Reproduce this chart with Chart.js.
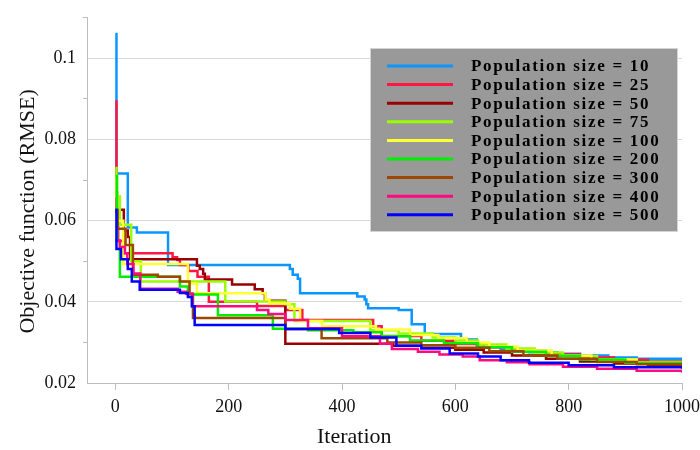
<!DOCTYPE html>
<html>
<head>
<meta charset="utf-8">
<script src="https://cdn.jsdelivr.net/npm/chart.js@4.4.1/dist/chart.umd.min.js"></script>
<style>
  html, body { margin: 0; padding: 0; background: #fff; }
  #wrap { width: 700px; height: 450px; }
</style>
</head>
<body>
<div id="wrap"><canvas id="chart" width="700" height="450"></canvas></div>
<script>
const popSizes = ['10', '25', '50', '75', '100', '200', '300', '400', '500'];
const lineColors = ['#0a95ff', '#ff1744', '#990000', '#99ff00', '#ffff33', '#00ee00', '#9c4800', '#ff0a80', '#0000ff'];

// [iteration, RMSE] (best-so-far steps)
const pop10 = [[0, 0.106], [2, 0.0716], [22, 0.0583], [38, 0.0571], [93, 0.0491], [308, 0.0481], [313, 0.0467], [322, 0.0457], [326, 0.0421], [427, 0.0413], [440, 0.0406], [443, 0.0394], [446, 0.0384], [500, 0.0380], [523, 0.0345], [546, 0.0321], [610, 0.0307], [638, 0.0289], [680, 0.0282], [730, 0.0276], [780, 0.0272], [820, 0.0268], [870, 0.0263], [920, 0.0260], [1000, 0.0258]];
const pop25 = [[0, 0.0894], [2, 0.062], [5, 0.055], [14, 0.0520], [101, 0.0510], [109, 0.0503], [114, 0.0491], [129, 0.0476], [145, 0.0462], [165, 0.0400], [250, 0.0390], [300, 0.0380], [330, 0.0355], [455, 0.0340], [470, 0.0316], [540, 0.0304], [600, 0.0296], [650, 0.0288], [700, 0.0280], [760, 0.0271], [820, 0.0263], [880, 0.0257], [940, 0.0253], [1000, 0.0250]];
const pop50 = [[0, 0.067], [3, 0.0627], [15, 0.0576], [22, 0.0560], [26, 0.0505], [144, 0.0489], [149, 0.0481], [155, 0.0469], [158, 0.0455], [206, 0.0443], [246, 0.0431], [260, 0.0421], [264, 0.0403], [300, 0.0297], [490, 0.0292], [540, 0.0287], [600, 0.0282], [650, 0.0275], [700, 0.0268], [760, 0.0260], [820, 0.0253], [880, 0.0248], [940, 0.0244], [1000, 0.0241]];
const pop75 = [[0, 0.073], [2, 0.066], [8, 0.0590], [28, 0.0500], [45, 0.0450], [194, 0.0401], [300, 0.0394], [316, 0.0353], [450, 0.0330], [500, 0.0322], [560, 0.0312], [600, 0.0305], [640, 0.0295], [690, 0.0285], [740, 0.0275], [790, 0.0266], [850, 0.0258], [920, 0.0251], [1000, 0.0246]];
const pop100 = [[0, 0.071], [3, 0.060], [14, 0.0493], [128, 0.0445], [144, 0.0421], [265, 0.0406], [272, 0.0396], [308, 0.0383], [326, 0.0353], [365, 0.0340], [460, 0.0332], [520, 0.0318], [570, 0.0310], [620, 0.0300], [660, 0.0290], [710, 0.0280], [770, 0.0268], [840, 0.0258], [920, 0.0250], [1000, 0.0245]];
const pop200 = [[0, 0.071], [3, 0.055], [8, 0.0462], [114, 0.0438], [128, 0.0418], [181, 0.0367], [278, 0.0334], [340, 0.0330], [420, 0.0325], [470, 0.0315], [520, 0.0305], [580, 0.0298], [640, 0.0288], [700, 0.0277], [760, 0.0267], [820, 0.0258], [900, 0.0250], [1000, 0.0244]];
const pop300 = [[0, 0.0625], [4, 0.058], [18, 0.054], [31, 0.0467], [75, 0.0462], [114, 0.0450], [131, 0.0420], [137, 0.0360], [300, 0.0333], [364, 0.0310], [480, 0.0300], [540, 0.0293], [600, 0.0287], [660, 0.0278], [720, 0.0268], [780, 0.0260], [850, 0.0252], [920, 0.0246], [1000, 0.0242]];
const pop400 = [[0, 0.0551], [8, 0.0535], [17, 0.0520], [21, 0.0493], [32, 0.0470], [44, 0.0432], [110, 0.0425], [125, 0.0420], [136, 0.0389], [250, 0.0380], [270, 0.0370], [300, 0.0355], [340, 0.0335], [400, 0.0315], [467, 0.0297], [488, 0.0284], [534, 0.0277], [572, 0.0270], [613, 0.0265], [643, 0.0256], [691, 0.0251], [731, 0.0246], [790, 0.0240], [850, 0.0235], [920, 0.0230], [1000, 0.0226]];
const pop500 = [[0, 0.0627], [2, 0.0530], [10, 0.0505], [22, 0.0481], [29, 0.0450], [43, 0.0430], [114, 0.0422], [128, 0.0412], [135, 0.0389], [140, 0.0343], [300, 0.0333], [395, 0.0323], [450, 0.0312], [496, 0.0292], [540, 0.0285], [590, 0.0273], [640, 0.0265], [680, 0.0256], [730, 0.0250], [800, 0.0244], [880, 0.0239], [1000, 0.0235]];

const seriesData = [pop10, pop25, pop50, pop75, pop100, pop200, pop300, pop400, pop500];

const xTickValues = [0, 200, 400, 600, 800, 1000];
const yTickValues = [0.02, 0.03, 0.04, 0.05, 0.06, 0.07, 0.08, 0.09, 0.10, 0.11];
const yTickLabels = ['0.02', '', '0.04', '', '0.06', '', '0.08', '', '0.1', ''];

const serif = '"Liberation Serif", "Times New Roman", serif';
// trailing no-break spaces nudge the centred axis titles to where the original has them
const pad = n => '\u00a0'.repeat(n);

// grey box legend drawn inside the plot, like the original
const boxLegend = {
    id: 'boxLegend',
    afterDatasetsDraw(chart) {
        const ctx = chart.ctx;
        ctx.save();
        ctx.fillStyle = '#999999';
        ctx.fillRect(370, 48, 308, 184);
        ctx.strokeStyle = '#d4d4d4';
        ctx.lineWidth = 1;
        ctx.strokeRect(370.5, 48.5, 307, 183);
        ctx.font = 'bold 17px ' + serif;
        ctx.letterSpacing = '1.7px';
        ctx.textBaseline = 'middle';
        chart.data.datasets.forEach(function(ds, i) {
            const y = 66 + i * 18.6;
            ctx.strokeStyle = ds.borderColor;
            ctx.lineWidth = 3;
            ctx.beginPath();
            ctx.moveTo(387, y);
            ctx.lineTo(453, y);
            ctx.stroke();
            ctx.fillStyle = '#000';
            ctx.fillText(ds.label, 471, y + 1);
        });
        ctx.restore();
    }
};

function buildDatasets() {
    return seriesData.map(function(pts, i) {
        return {
            label: 'Population size = ' + popSizes[i],
            data: pts.map(p => ({x: p[0], y: p[1]})),
            borderColor: lineColors[i],
            backgroundColor: lineColors[i],
            borderWidth: 2.5,
            pointRadius: 0,
            stepped: true,
            fill: false,
            order: seriesData.length - i
        };
    });
}

const chart = new Chart(document.getElementById('chart').getContext('2d'), {
    type: 'line',
    data: { datasets: buildDatasets() },
    options: {
        responsive: false,
        animation: false,
        devicePixelRatio: 1,
        layout: { padding: { top: 12, right: 0, left: 0, bottom: 0 } },
        plugins: {
            legend: { display: false },
            tooltip: { enabled: false }
        },
        scales: {
            x: {
                type: 'linear',
                min: -50,
                max: 1000,
                afterBuildTicks: s => { s.ticks = xTickValues.map(v => ({value: v})); },
                afterFit: s => { s.height = 67; s.paddingLeft = 0; s.paddingRight = 18; },
                grid: { drawOnChartArea: false, drawTicks: true, tickLength: 7, color: '#bdbdbd' },
                border: { display: true, color: '#bdbdbd' },
                ticks: {
                    color: '#111',
                    padding: 6,
                    font: { family: serif, size: 18 },
                    maxRotation: 0,
                    callback: v => String(v)
                },
                title: { display: true, text: 'Iteration' + pad(11), color: '#111', padding: { top: 0, bottom: 0 }, font: { family: serif, size: 22 } }
            },
            y: {
                type: 'linear',
                min: 0.02,
                max: 0.11,
                afterBuildTicks: s => { s.ticks = yTickValues.map(v => ({value: v})); },
                afterFit: s => { s.width = 87; },
                grid: {
                    drawTicks: true,
                    tickLength: 4,
                    color: c => (c.tick && yTickLabels[c.index] !== '' ? '#d9d9d9' : 'rgba(0,0,0,0)'),
                    tickColor: c => (c.tick && yTickLabels[c.index] === '' ? '#bdbdbd' : 'rgba(0,0,0,0)')
                },
                border: { display: true, color: '#bdbdbd' },
                ticks: {
                    color: '#111',
                    padding: 7,
                    font: { family: serif, size: 18 },
                    callback: (v, i) => yTickLabels[i]
                },
                title: { display: true, text: 'Objective function (RMSE)' + pad(4), color: '#111', padding: { top: 15, bottom: 0 }, font: { family: serif, size: 22 } }
            }
        }
    },
    plugins: [boxLegend]
});
</script>
</body>
</html>
